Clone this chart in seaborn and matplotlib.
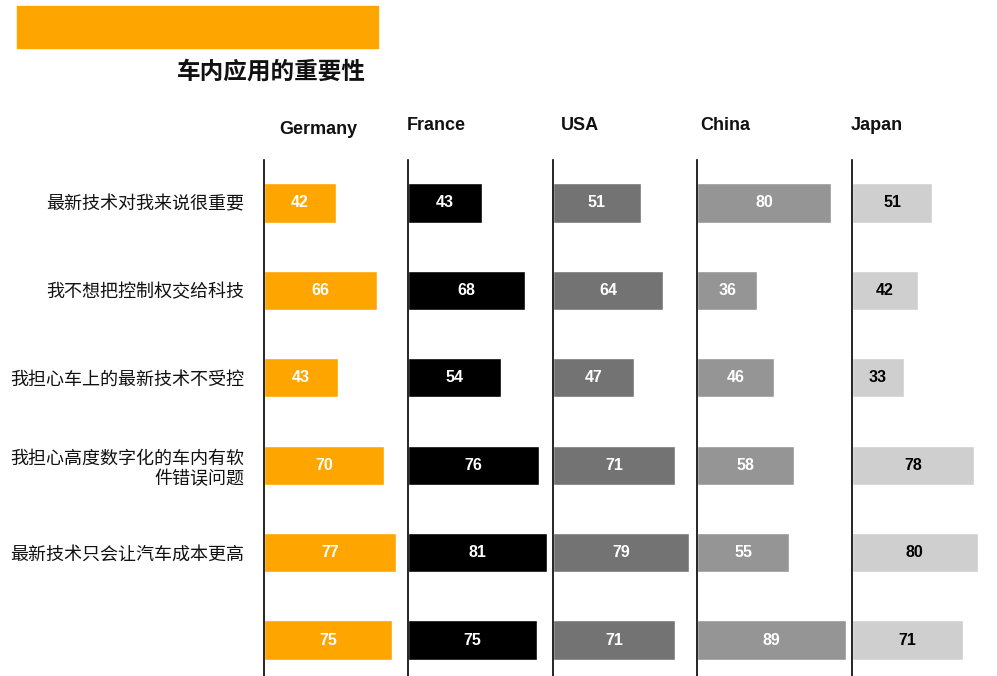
import matplotlib
matplotlib.use("Agg")
import matplotlib.pyplot as plt
import seaborn as sns
import pandas as pd
from matplotlib.patches import Rectangle

# ─── Data ──────────────────────────────────────────────────────────────────────

statements = [
    "最新技术对我来说很重要",
    "我不想把控制权交给科技",
    "我担心车上的最新技术不受控",
    "我担心高度数字化的车内有软\n件错误问题",
    "最新技术只会让汽车成本更高",
    "",
]
countries = ["Germany", "France", "USA", "China", "Japan"]
germany = [42, 66, 43, 70, 77, 75]
france = [43, 68, 54, 76, 81, 75]
usa = [51, 64, 47, 71, 79, 71]
china = [80, 36, 46, 58, 55, 89]
japan = [51, 42, 33, 78, 80, 71]
title = "车内应用的重要性"

# ─── Styling ───────────────────────────────────────────────────────────────────

bar_colors = ["#FFA500", "#000000", "#737373", "#959595", "#CFCFCF"]
text_colors = ["white", "white", "white", "white", "black"]
# axes edges in pixels and x-limits (panels use slightly different scales)
panel_px = [(264, 408), (408, 553), (553, 697), (697, 852), (852, 997)]
panel_xmax = [84.2, 84.3, 83.7, 92.5, 92.4]
title_pos = [(279, 130), (407, 125), (561, 125), (700, 125), (851, 125)]

sns.set_style("white")
plt.rcParams["font.family"] = ["Noto Sans CJK SC", "DejaVu Sans"]

W, H = 997, 676
fig = plt.figure(figsize=(W / 100, H / 100), dpi=100)

# orange banner
fig.patches.append(Rectangle((17 / W, 1 - 48 / H), (378 - 17) / W, 42 / H,
                             transform=fig.transFigure, color="#FFA500", zorder=0))
fig.text(177 / W, 1 - 72 / H, title, fontsize=17, fontweight="bold",
         ha="left", va="center", color="#111111")

series = [germany, france, usa, china, japan]
ax_top = 1 - 160 / H

for i, (name, vals) in enumerate(zip(countries, series)):
    x0, x1 = panel_px[i]
    ax = fig.add_axes([x0 / W, 0, (x1 - x0) / W, ax_top])
    ax.patch.set_alpha(0)
    df = pd.DataFrame({"statement": range(len(vals)), "value": vals})
    sns.barplot(data=df, x="value", y="statement", orient="h", ax=ax,
                color=bar_colors[i], width=0.45, saturation=1)
    ax.set_xlim(0, panel_xmax[i])
    ax.set_ylim(5.41, -0.49)
    ax.set_xlabel("")
    ax.set_ylabel("")
    ax.set_xticks([])
    for s in ["top", "right", "bottom"]:
        ax.spines[s].set_visible(False)
    ax.spines["left"].set_color("black")
    ax.spines["left"].set_linewidth(1.2)
    for j, v in enumerate(vals):
        ax.text(v / 2, j, str(v), ha="center", va="center", color=text_colors[i],
                fontsize=11.5, fontweight="bold", family="Liberation Sans")
    if i == 0:
        ax.set_yticks(range(len(statements)))
        ax.set_yticklabels(statements, fontsize=13, ha="right", multialignment="right",
                           color="#111111")
        ax.tick_params(axis="y", length=0, pad=14)
    else:
        ax.set_yticks([])
    tx, ty = title_pos[i]
    fig.text(tx / W, 1 - ty / H, name, fontsize=13, fontweight="bold",
             family="Liberation Sans", ha="left", va="center", color="#111111")

fig.savefig("out.png", dpi=100)
